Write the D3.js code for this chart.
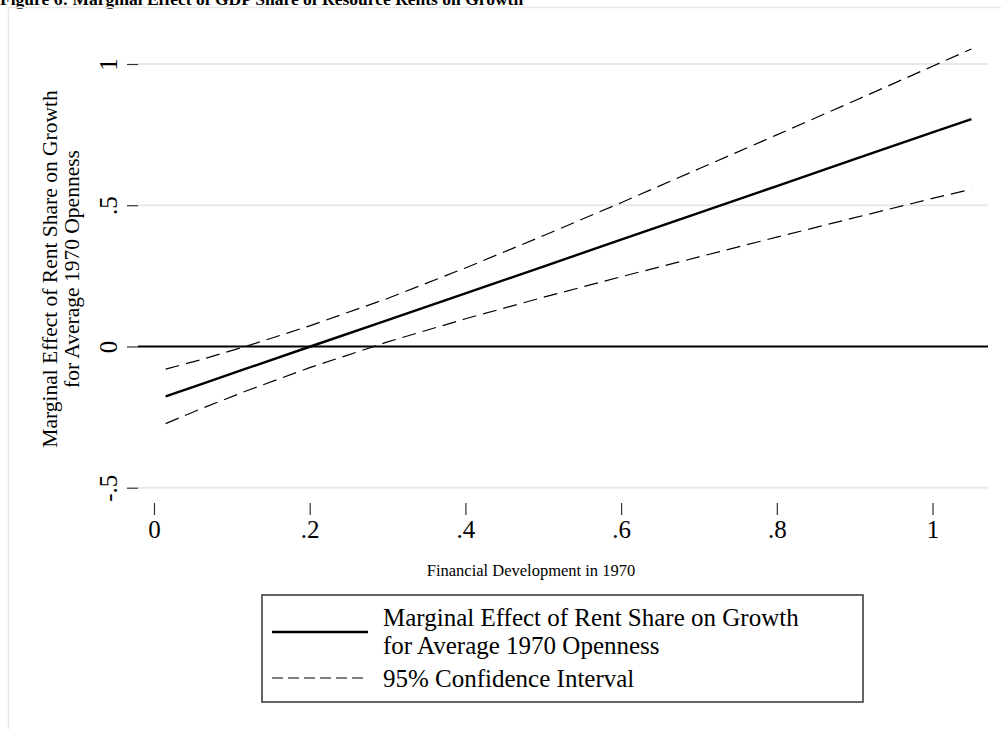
<!DOCTYPE html>
<html>
<head>
<meta charset="utf-8">
<script src="https://cdn.jsdelivr.net/npm/d3@7"></script>
<style>
  body { margin: 0; background: #fff; }
  svg { display: block; font-family: "Liberation Serif", "Times New Roman", serif; }
</style>
</head>
<body>
<svg id="chart" width="1001" height="729"></svg>
<script>
// values
var finDev   = [0.015, 0.06, 0.12, 0.2, 0.3, 0.4, 0.5, 0.6, 0.7, 0.8, 0.9, 1.0, 1.05];
var marginal = [-0.177, -0.134, -0.077, -0.001, 0.093, 0.188, 0.283, 0.378, 0.473, 0.568, 0.663, 0.758, 0.805];
var ciUpper  = [-0.080, -0.047, 0.002, 0.073, 0.170, 0.278, 0.392, 0.509, 0.629, 0.749, 0.870, 0.992, 1.053];
var ciLower  = [-0.273, -0.221, -0.156, -0.075, 0.016, 0.098, 0.174, 0.247, 0.317, 0.387, 0.456, 0.524, 0.557];

var xTicks = [0, 0.2, 0.4, 0.6, 0.8, 1];
var xTickLabels = ["0", ".2", ".4", ".6", ".8", "1"];
var yTicks = [-0.5, 0, 0.5, 1];
var yTickLabels = ["-.5", "0", ".5", "1"];

var legendLabels = [["Marginal Effect of Rent Share on Growth", "for Average 1970 Openness"], ["95% Confidence Interval"]];

var svg = d3.select("#chart");

var x = d3.scaleLinear().domain([0, 1]).range([154, 932.5]);
var y = d3.scaleLinear().domain([-0.5, 1]).range([487.7, 64]);
var plotLeft = 138, plotRight = 988;

// title, cut at the top of the page like the scan
svg.append("text")
    .attr("x", 0).attr("y", 5)
    .attr("font-weight", "bold")
    .attr("font-size", 17.5)
    .text("Figure 6: Marginal Effect of GDP Share of Resource Rents on Growth");

// outer frame
svg.append("rect")
    .attr("x", 8.5).attr("y", 7.5)
    .attr("width", 1100).attr("height", 800)
    .attr("fill", "none")
    .attr("stroke", "#e6e6e6")
    .attr("stroke-width", 1.5);

// grid lines
svg.append("g").selectAll("line")
    .data(yTicks.filter(function(d) { return d != 0; }))
    .join("line")
    .attr("x1", plotLeft).attr("x2", plotRight)
    .attr("y1", function(d) { return y(d); })
    .attr("y2", function(d) { return y(d); })
    .attr("stroke", "#e8e8e8")
    .attr("stroke-width", 2);

// zero line
svg.append("line")
    .attr("x1", plotLeft).attr("x2", plotRight)
    .attr("y1", y(0)).attr("y2", y(0))
    .attr("stroke", "#000")
    .attr("stroke-width", 2);

// axes
var yAxis = d3.axisLeft(y)
    .tickValues(yTicks)
    .tickSize(11)
    .tickFormat(function(d, i) { return yTickLabels[i]; });

var gy = svg.append("g").attr("transform", "translate(" + plotLeft + ",0)").call(yAxis);
gy.select(".domain").remove();
gy.selectAll(".tick line").attr("stroke", "#333").attr("stroke-width", 1.2);
gy.selectAll(".tick text")
    .attr("x", null).attr("dy", null)
    .attr("transform", "translate(-21,0) rotate(-90)")
    .attr("text-anchor", "middle")
    .attr("font-family", "Liberation Serif, serif")
    .attr("font-size", 25)
    .attr("fill", "#000");

var xAxis = d3.axisBottom(x)
    .tickValues(xTicks)
    .tickSize(12)
    .tickFormat(function(d, i) { return xTickLabels[i]; });

var gx = svg.append("g").attr("transform", "translate(0,503)").call(xAxis);
gx.select(".domain").remove();
gx.selectAll(".tick line").attr("stroke", "#333").attr("stroke-width", 1.2);
gx.selectAll(".tick text")
    .attr("y", 35).attr("dy", null)
    .attr("font-family", "Liberation Serif, serif")
    .attr("font-size", 25)
    .attr("fill", "#000");

// axis titles
svg.append("text")
    .attr("x", 531).attr("y", 576)
    .attr("text-anchor", "middle")
    .attr("font-size", 16.5)
    .text("Financial Development in 1970");

var yTitle = svg.append("g").attr("transform", "translate(0,269)");
yTitle.append("text")
    .attr("transform", "translate(57,0) rotate(-90)")
    .attr("text-anchor", "middle")
    .attr("font-size", 21.5)
    .text(legendLabels[0][0]);
yTitle.append("text")
    .attr("transform", "translate(79,0) rotate(-90)")
    .attr("text-anchor", "middle")
    .attr("font-size", 21.5)
    .text(legendLabels[0][1]);

// lines
function series(vals) {
  return finDev.map(function(d, i) { return [d, vals[i]]; });
}
var line = d3.line()
    .x(function(d) { return x(d[0]); })
    .y(function(d) { return y(d[1]); });

[ciUpper, ciLower].forEach(function(vals) {
  svg.append("path")
      .datum(series(vals))
      .attr("d", line)
      .attr("fill", "none")
      .attr("stroke", "#000")
      .attr("stroke-width", 1.2)
      .attr("stroke-dasharray", "14,7");
});

svg.append("path")
    .datum(series(marginal))
    .attr("d", line)
    .attr("fill", "none")
    .attr("stroke", "#000")
    .attr("stroke-width", 2.4);

// legend
var lg = svg.append("g");
lg.append("rect")
    .attr("x", 262).attr("y", 595)
    .attr("width", 601).attr("height", 107)
    .attr("fill", "#fff")
    .attr("stroke", "#333")
    .attr("stroke-width", 1.5);
lg.append("line")
    .attr("x1", 272).attr("x2", 368)
    .attr("y1", 632).attr("y2", 632)
    .attr("stroke", "#000").attr("stroke-width", 2.6);
lg.append("line")
    .attr("x1", 272).attr("x2", 368)
    .attr("y1", 678).attr("y2", 678)
    .attr("stroke", "#000").attr("stroke-width", 1.2)
    .attr("stroke-dasharray", "11,5");
lg.append("text").attr("x", 383).attr("y", 626).attr("font-size", 25).text(legendLabels[0][0]);
lg.append("text").attr("x", 383).attr("y", 654).attr("font-size", 25).text(legendLabels[0][1]);
lg.append("text").attr("x", 383).attr("y", 687).attr("font-size", 25).text(legendLabels[1][0]);
</script>
</body>
</html>
